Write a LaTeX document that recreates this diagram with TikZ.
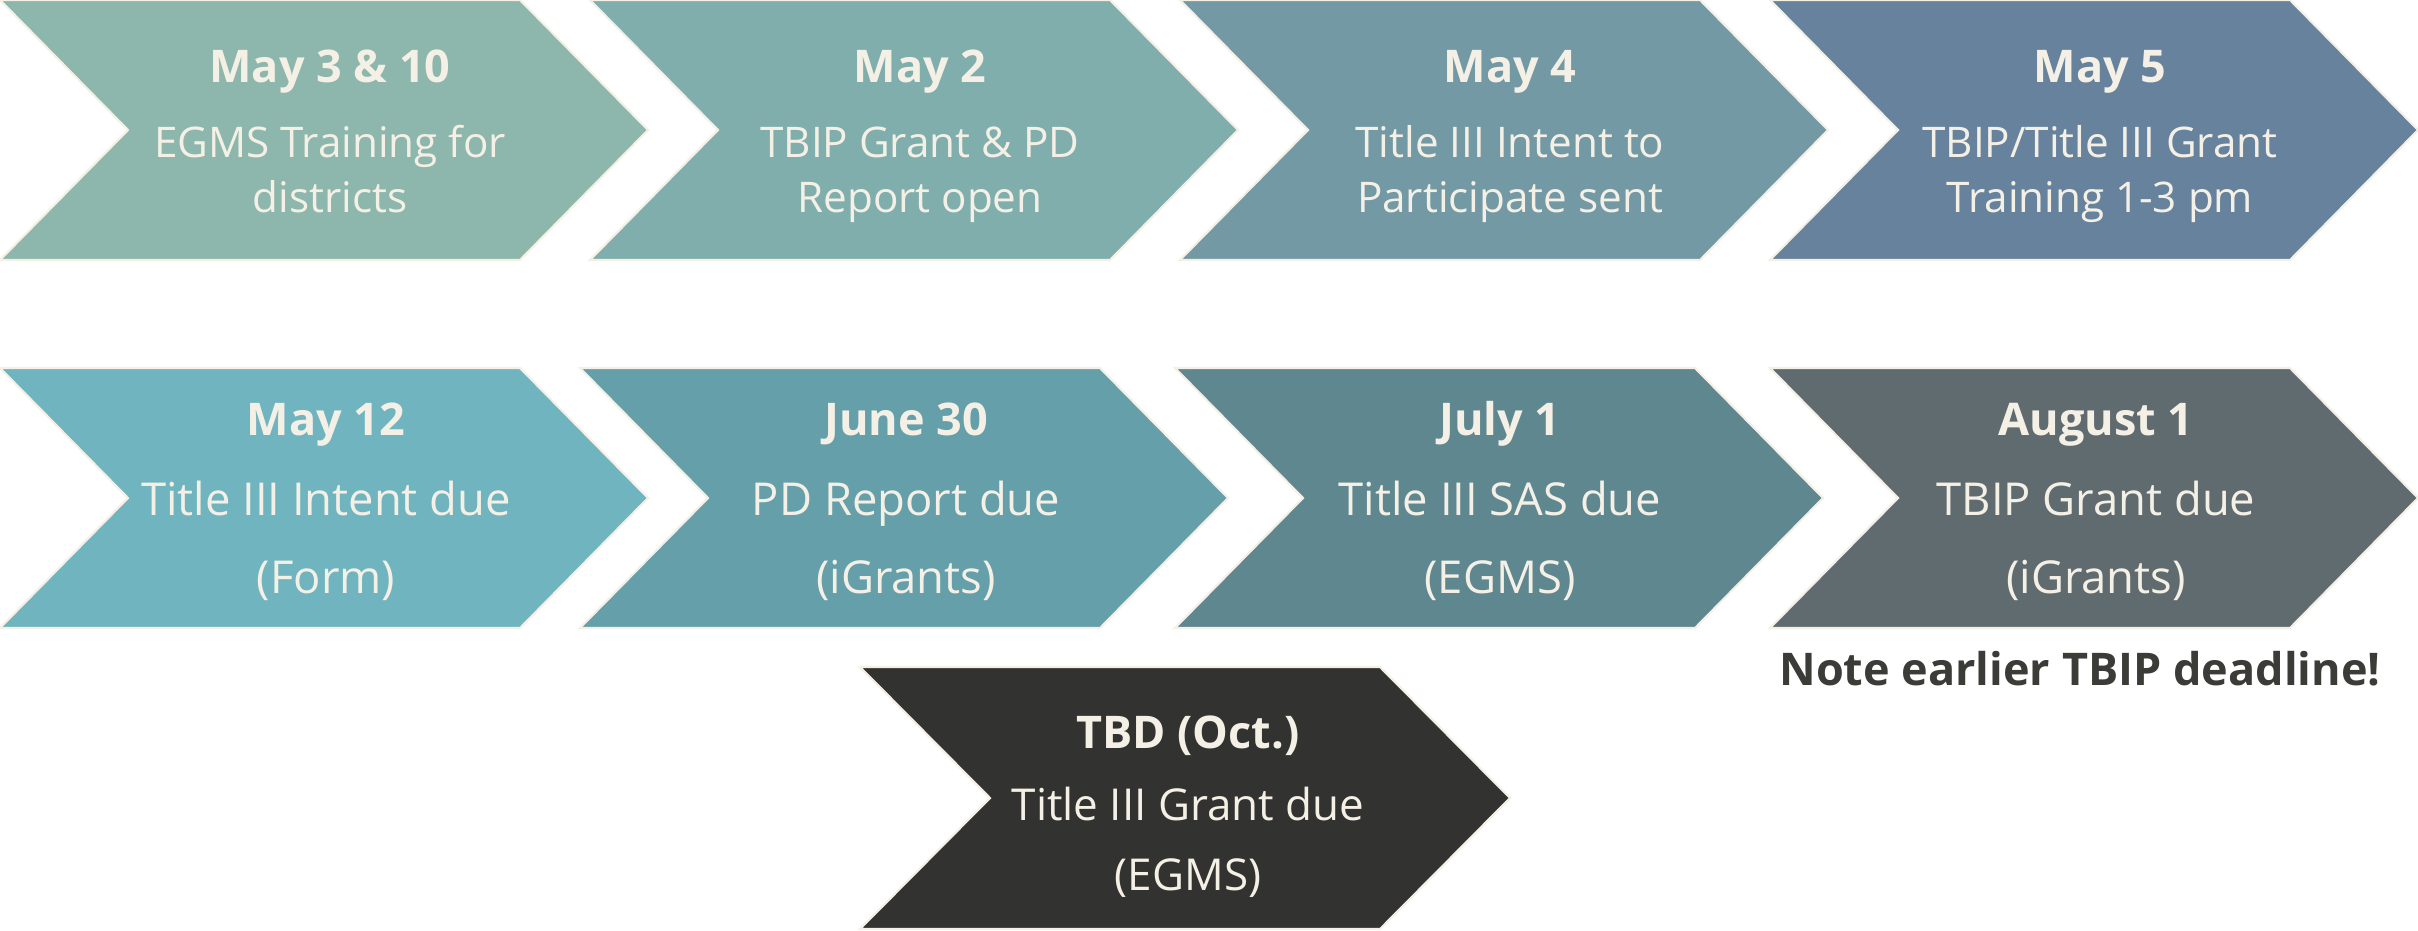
\documentclass[tikz,border=0pt]{standalone}
\usepackage{fontspec}
\setmainfont{Open Sans}
\usepackage{tikz}
\definecolor{cream}{HTML}{F4F0E6}
\definecolor{notegray}{HTML}{3B3B37}
\definecolor{sage}{HTML}{8DB6AC}
\definecolor{seafoam}{HTML}{80AEAD}
\definecolor{teal}{HTML}{7399A5}
\definecolor{slate}{HTML}{67829D}
\definecolor{aqua}{HTML}{6FB4BF}
\definecolor{deepaqua}{HTML}{649FAA}
\definecolor{steel}{HTML}{5F8790}
\definecolor{graphite}{HTML}{606B70}
\definecolor{charcoal}{HTML}{323230}

\begin{document}
\begin{tikzpicture}[x=0.01cm, y=-0.01cm,
		chev/.style={fill=#1, draw=cream, line width=0.6pt},
		datetxt/.style={anchor=base, inner sep=0pt, text=cream, font=\fontsize{12.8}{15}\selectfont\bfseries},
		infotxt/.style={anchor=base, inner sep=0pt, text=cream, font=\fontsize{#1}{15}\selectfont},
		infotxt/.default=12.5]
				\useasboundingbox (0,0) rectangle (2418,930);
				\fill[white] (0,0) rectangle (2418,930);
				% first row
				\draw[chev=sage] (0,0) -- ++(520,0) -- ++(128,130) -- ++(-128,130) -- ++(-520,0) -- ++(128,-130) -- cycle;
				\draw[chev=seafoam] (590,0) -- ++(520,0) -- ++(128,130) -- ++(-128,130) -- ++(-520,0) -- ++(128,-130) -- cycle;
				\draw[chev=teal] (1180,0) -- ++(520,0) -- ++(128,130) -- ++(-128,130) -- ++(-520,0) -- ++(128,-130) -- cycle;
				\draw[chev=slate] (1770,0) -- ++(520,0) -- ++(128,130) -- ++(-128,130) -- ++(-520,0) -- ++(128,-130) -- cycle;
				\node[datetxt] (d1) at (330,82) {May 3 \& 10};
				\node[infotxt=12] (a1) at (330,157) {EGMS Training for};
				\node[infotxt=12] (b1) at (330,212) {districts};
				\node[datetxt] (d2) at (920,82) {May 2};
				\node[infotxt=12] (a2) at (920,157) {TBIP Grant \& PD};
				\node[infotxt=12] (b2) at (920,212) {Report open};
				\node[datetxt] (d3) at (1510,82) {May 4};
				\node[infotxt=12] (a3) at (1510,157) {Title III Intent to};
				\node[infotxt=12] (b3) at (1510,212) {Participate sent};
				\node[datetxt] (d4) at (2100,82) {May 5};
				\node[infotxt=12] (a4) at (2100,157) {TBIP/Title III Grant};
				\node[infotxt=12] (b4) at (2100,212) {Training 1-3 pm};
				% second row
				\draw[chev=aqua] (0,368) -- ++(520,0) -- ++(128,130) -- ++(-128,130) -- ++(-520,0) -- ++(128,-130) -- cycle;
				\draw[chev=deepaqua] (580,368) -- ++(520,0) -- ++(128,130) -- ++(-128,130) -- ++(-520,0) -- ++(128,-130) -- cycle;
				\draw[chev=steel] (1175,368) -- ++(520,0) -- ++(128,130) -- ++(-128,130) -- ++(-520,0) -- ++(128,-130) -- cycle;
				\draw[chev=graphite] (1770,368) -- ++(520,0) -- ++(128,130) -- ++(-128,130) -- ++(-520,0) -- ++(128,-130) -- cycle;
				\node[datetxt] (d5) at (326,435) {May 12};
				\node[infotxt=12.9] (a5) at (326,515) {Title III Intent due};
				\node[infotxt=12.9] (b5) at (326,593) {(Form)};
				\node[datetxt] (d6) at (906,435) {June 30};
				\node[infotxt=12.9] (a6) at (906,515) {PD Report due};
				\node[infotxt=12.9] (b6) at (906,593) {(iGrants)};
				\node[datetxt] (d7) at (1500,435) {July 1};
				\node[infotxt=12.9] (a7) at (1500,515) {Title III SAS due};
				\node[infotxt=12.9] (b7) at (1500,593) {(EGMS)};
				\node[datetxt] (d8) at (2096,435) {August 1};
				\node[infotxt=12.9] (a8) at (2096,515) {TBIP Grant due};
				\node[infotxt=12.9] (b8) at (2096,593) {(iGrants)};
				\node[datetxt, text=notegray] (note) at (2080,685) {Note earlier TBIP deadline!};
				% last one
				\draw[chev=charcoal] (860,667) -- ++(520,0) -- ++(130,131) -- ++(-130,131) -- ++(-520,0) -- ++(130,-131) -- cycle;
				\node[datetxt] (d9) at (1188,748) {TBD (Oct.)};
				\node[infotxt] (a9) at (1188,820) {Title III Grant due};
				\node[infotxt] (b9) at (1188,890) {(EGMS)};
			\end{tikzpicture}
\end{document}
